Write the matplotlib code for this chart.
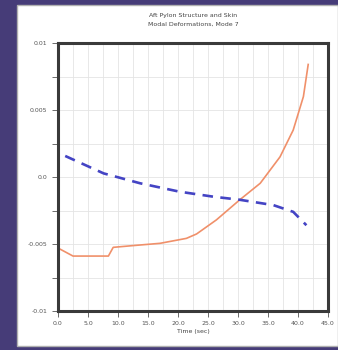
import matplotlib
matplotlib.use("Agg")
import matplotlib.pyplot as plt
from matplotlib.patches import Rectangle
from matplotlib.ticker import MultipleLocator, FormatStrFormatter

# Strain histories for mode 7
t_structure = [0.0, 2.5, 8.4, 9.2, 13.0, 17.0, 21.4, 23.1, 26.4, 30.3, 33.7, 37.0, 39.2, 40.9, 41.7]
structure = [-0.0053, -0.0059, -0.0059, -0.00525, -0.0051, -0.00495, -0.00458, -0.00425, -0.0032,
             -0.0017, -0.00047, 0.0015, 0.0035, 0.006, 0.0084]

t_skin = [1.2, 7.6, 13.7, 20.3, 25.9, 30.3, 35.9, 39.2, 41.4]
skin = [0.00157, 0.00027, -0.00047, -0.0011, -0.00147, -0.0017, -0.0021, -0.0026, -0.0036]

x_ticks = [0, 5, 10, 15, 20, 25, 30, 35, 40, 45]
y_ticks = [-0.01, -0.005, 0.0, 0.005, 0.01]
y_labels = ["-0.01", "-0.005", "0.0", "0.005", "0.01"]

fig = plt.figure(figsize=(3.38, 3.5), dpi=100)
fig.patch.set_facecolor("#463c78")
fig.patches.append(Rectangle((17 / 338, 4 / 350), 1 - 17 / 338, 1 - 9 / 350,
                             transform=fig.transFigure, facecolor="white",
                             edgecolor="#b0b0b0", linewidth=1.0, zorder=-5))

ax = fig.add_axes([58 / 338, 1 - 311 / 350, 270 / 338, 268 / 350])
ax.set_zorder(2)
ax.plot(t_structure, structure, color="#f0906a", linewidth=1.2)
ax.plot(t_skin, skin, color="#4444c4", linewidth=1.9, linestyle=(0, (4, 2.8)))

ax.set_xlim(0, 45)
ax.set_ylim(-0.01, 0.01)
ax.set_xticks(x_ticks)
ax.xaxis.set_major_formatter(FormatStrFormatter("%.1f"))
ax.set_yticks(y_ticks)
ax.set_yticklabels(y_labels)
ax.xaxis.set_minor_locator(MultipleLocator(2.5))
ax.yaxis.set_minor_locator(MultipleLocator(0.0025))
ax.grid(True, which="both", color="#e4e4e4", linestyle="-", linewidth=0.6)
ax.tick_params(axis="both", which="major", labelsize=4.5, colors="#555555", length=4, width=0.6)
ax.tick_params(axis="y", which="minor", length=4, width=0.6, color="#555555")
ax.tick_params(axis="x", which="minor", length=0)
for s in ax.spines.values():
    s.set_linewidth(2.2)
    s.set_color("#3a3a3a")

ax.set_xlabel("Time (sec)", fontsize=4.5, color="#444444", labelpad=2)
fig.text(193 / 338, 1 - 15 / 350, "Aft Pylon Structure and Skin", ha="center", va="center",
         fontsize=4.5, color="#444444", zorder=3)
fig.text(193 / 338, 1 - 24 / 350, "Modal Deformations, Mode 7", ha="center", va="center",
         fontsize=4.5, color="#444444", zorder=3)

fig.savefig("out.png", dpi=100, facecolor=fig.get_facecolor())
